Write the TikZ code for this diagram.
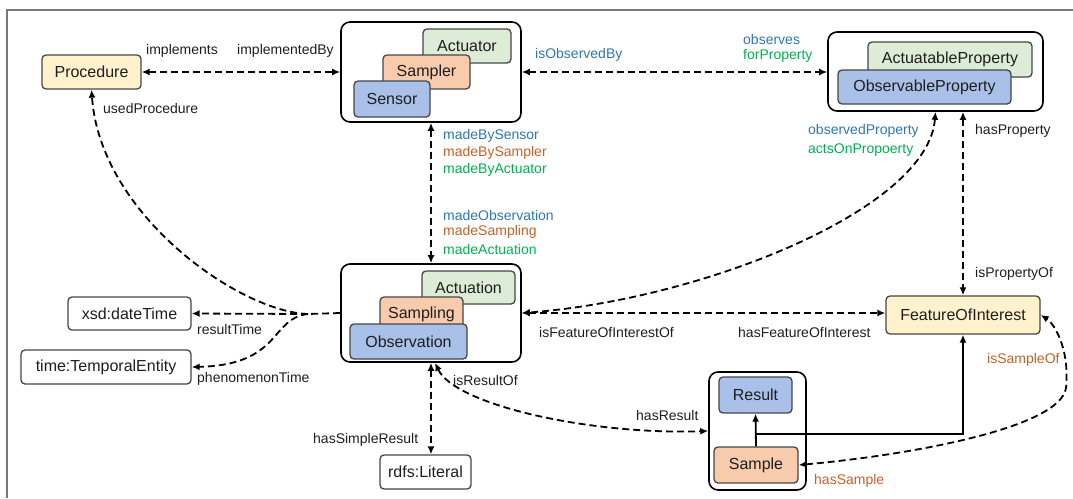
\documentclass[tikz,border=0pt]{standalone}
\usepackage{fontspec}
\setmainfont{Liberation Sans}
\usetikzlibrary{arrows.meta,calc}
\definecolor{cblue}{RGB}{46,117,182}
\definecolor{corange}{RGB}{200,95,40}
\definecolor{cgreen}{RGB}{0,176,80}
\definecolor{fyel}{RGB}{255,242,204}
\definecolor{fgreen}{RGB}{221,236,214}
\definecolor{fpeach}{RGB}{248,203,173}
\definecolor{fblue}{RGB}{169,193,232}
\definecolor{bline}{RGB}{70,70,70}
\definecolor{textc}{RGB}{30,30,30}
\definecolor{frame}{RGB}{120,120,120}
\begin{document}
\begin{tikzpicture}[x=1pt,y=-1pt,>={Latex[length=8pt,width=7pt]},
  grp/.style={draw=black,line width=1.6pt,rounded corners=9pt,fill=white,inner sep=0pt},
  bx/.style={draw=bline,line width=1.3pt,rounded corners=4pt,font=\fontsize{16}{19}\selectfont,text=textc,inner sep=0pt},
  lbl/.style={font=\fontsize{14}{16}\selectfont,anchor=west,inner sep=0pt,text=textc},
  dl/.style={line width=1.8pt,dash pattern=on 7pt off 4pt},
  sl/.style={line width=1.8pt}]
\useasboundingbox (0,0) rectangle (1073,498);
\draw[frame,line width=2pt] (7,498) -- (7,10) -- (1073,10);

% nodes
\node[bx,fill=fyel,minimum width=99pt,minimum height=34pt] (proc) at (91.5,72) {Procedure};

\node[grp,minimum width=180pt,minimum height=100pt] (sgrp) at (431,72) {};
\node[bx,fill=fgreen,minimum width=88pt,minimum height=34pt] (act) at (467,46) {Actuator};
\node[bx,fill=fpeach,minimum width=87pt,minimum height=34pt] (samp) at (426.5,72) {Sampler};
\node[bx,fill=fblue,minimum width=76pt,minimum height=36pt] (sens) at (392,99) {Sensor};

\node[grp,minimum width=215pt,minimum height=79pt] (pgrp) at (935.5,71.5) {};
\node[bx,fill=fgreen,minimum width=164pt,minimum height=35pt] (actp) at (950,59.5) {ActuatableProperty};
\node[bx,fill=fblue,minimum width=173pt,minimum height=34pt] (obsp) at (924.5,87) {ObservableProperty};

\node[grp,minimum width=180pt,minimum height=98pt] (ogrp) at (431,313) {};
\node[bx,fill=fgreen,minimum width=93pt,minimum height=33pt] (actn) at (468.5,287.5) {Actuation};
\node[bx,fill=fpeach,minimum width=83pt,minimum height=34pt] (smpl) at (421.5,314) {Sampling};
\node[bx,fill=fblue,minimum width=117pt,minimum height=35pt] (obs) at (408.5,341.5) {Observation};

\node[bx,fill=white,minimum width=123pt,minimum height=33pt] (xsd) at (129.5,313.5) {xsd:dateTime};
\node[bx,fill=white,minimum width=170pt,minimum height=34pt] (time) at (106,367) {time:TemporalEntity};
\node[bx,fill=white,minimum width=91pt,minimum height=34pt] (lit) at (425.5,472) {rdfs:Literal};
\node[bx,fill=fyel,minimum width=154pt,minimum height=38pt] (foi) at (963,315) {FeatureOfInterest};

\node[grp,minimum width=97pt,minimum height=118pt] (rgrp) at (757.5,431) {};
\node[bx,fill=fblue,minimum width=73pt,minimum height=36pt] (res) at (755.5,395) {Result};
\node[bx,fill=fpeach,minimum width=84pt,minimum height=36pt] (smp) at (756,465) {Sample};

% connectors
\draw[dl,<->] (proc.east) -- (sgrp.west);
\draw[dl,<->] (sgrp.east) -- (sgrp.east -| pgrp.west);
\draw[dl,<->] (sgrp.south) -- (ogrp.north);
\draw[dl,<->] (ogrp.south) -- (ogrp.south |- lit.north);
\draw[dl,<->] (ogrp.east) -- (ogrp.east -| foi.west);
\draw[dl,<->] (foi.north |- pgrp.south) -- (foi.north);
\draw[dl,<->] (pgrp.south) .. controls (928,210) and (700,300) .. (ogrp.east);

\coordinate (cv) at (308,314);
\draw[dl] (ogrp.west) -- (cv);
\draw[dl,->] (cv) -- (xsd.east);
\draw[dl,->] (cv) .. controls (270,318) and (282,365) .. (time.east);
\draw[dl,->] (cv) .. controls (240,312) and (100,215) .. (proc.south);

\draw[dl,<->] ($(ogrp.south)+(4,0)$) .. controls (455,405) and (590,435) .. (rgrp.west);

\draw[sl,->] (smp.north) -- (res.south);
\coordinate (br) at (756,434);
\draw[sl,->] (br) -| (foi.south);

\draw[dl,<->] (smp.east) .. controls (910,455) and (1060,428) .. (1066,388) .. controls (1070,345) and (1052,322) .. (foi.east);

% labels
\node[lbl] (l1) at (146,51) {implements};
\node[lbl] (l2) at (237,51) {implementedBy};
\node[lbl] (l3) at (103,108) {usedProcedure};
\node[lbl,text=cblue] (l4) at (535,55) {isObservedBy};
\node[lbl,text=cblue] (l5) at (743,39) {observes};
\node[lbl,text=cgreen] (l6) at (743,56) {forProperty};
\node[lbl,text=cblue] (l7) at (443,136) {madeBySensor};
\node[lbl,text=corange] (l8) at (443,153) {madeBySampler};
\node[lbl,text=cgreen] (l9) at (443,170) {madeByActuator};
\node[lbl,text=cblue] (l10) at (443,215) {madeObservation};
\node[lbl,text=corange] (l11) at (443,232) {madeSampling};
\node[lbl,text=cgreen] (l12) at (443,249) {madeActuation};
\node[lbl,text=cblue] (l13) at (808,131) {observedProperty};
\node[lbl,text=cgreen] (l14) at (808,150) {actsOnPropoerty};
\node[lbl] (l15) at (975,131) {hasProperty};
\node[lbl] (l16) at (975,274) {isPropertyOf};
\node[lbl] (l17) at (539,332) {isFeatureOfInterestOf};
\node[lbl] (l18) at (738,332) {hasFeatureOfInterest};
\node[lbl] (l19) at (197,329) {resultTime};
\node[lbl] (l20) at (197,379) {phenomenonTime};
\node[lbl] (l21) at (453,380) {isResultOf};
\node[lbl] (l22) at (636,415) {hasResult};
\node[lbl] (l23) at (313,440) {hasSimpleResult};
\node[lbl,text=corange] (l24) at (987,360) {isSampleOf};
\node[lbl,text=corange] (l25) at (814,481) {hasSample};
\end{tikzpicture}
\end{document}
